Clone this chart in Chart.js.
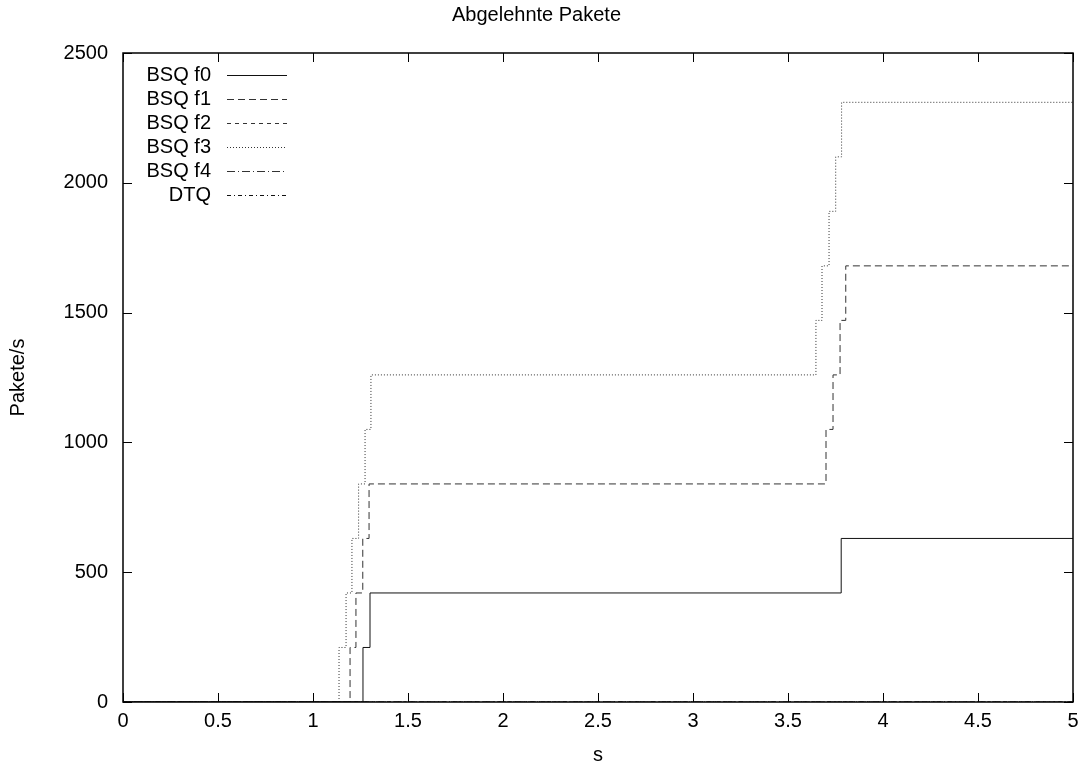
<!DOCTYPE html>
<html>
<head>
<meta charset="utf-8">
<title>Abgelehnte Pakete</title>
<script src="https://cdn.jsdelivr.net/npm/chart.js@4.4.1/dist/chart.umd.min.js"></script>
<style>
	html, body { margin: 0; padding: 0; background: #fff; }
	#wrap { position: relative; width: 1088px; height: 767px; }
</style>
</head>
<body>
<div id="wrap"><canvas id="chart"></canvas></div>
<script>
// step data: x = time in s, y = value from that time on
const xF0 = [0, 1.263, 1.3, 3.78, 5];
const yF0 = [0, 210, 420, 630, 630];

const xF1 = [0, 1.195, 1.226, 1.262, 1.295, 3.7, 3.737, 3.774, 3.804, 5];
const yF1 = [0, 210, 420, 630, 840, 1050, 1260, 1470, 1680, 1680];

const xF2 = [0, 5];
const yF2 = [0, 0];

const xF3 = [0, 1.137, 1.174, 1.205, 1.24, 1.274, 1.305, 3.647, 3.679, 3.716, 3.751, 3.782, 5];
const yF3 = [0, 210, 420, 630, 840, 1050, 1260, 1470, 1680, 1890, 2100, 2310, 2310];

const xF4 = [0, 5];
const yF4 = [0, 0];

const xDTQ = [0, 5];
const yDTQ = [0, 0];

const seriesLabels = ["BSQ f0", "BSQ f1", "BSQ f2", "BSQ f3", "BSQ f4", "DTQ"];
const xTicks = [0, 0.5, 1, 1.5, 2, 2.5, 3, 3.5, 4, 4.5, 5];
const yTicks = [0, 500, 1000, 1500, 2000, 2500];

const FONT = "'Liberation Sans', Arial, Helvetica, sans-serif";
const FS = 20;

function pts(xs, ys) {
	return xs.map((x, i) => ({ x: x, y: ys[i] }));
}

const dashes = [[], [7, 4], [4, 4], [1, 2], [8, 3, 1, 3], [4, 3, 1, 3]];
const colors = ["#111", "#333", "#333", "#333", "#333", "#111"];
const allX = [xF0, xF1, xF2, xF3, xF4, xDTQ];
const allY = [yF0, yF1, yF2, yF3, yF4, yDTQ];

const data = {
	datasets: seriesLabels.map((label, i) => ({
		label: label,
		data: pts(allX[i], allY[i]),
		borderColor: colors[i],
		borderWidth: 1,
		borderDash: dashes[i],
		pointRadius: 0,
		stepped: "before",
		fill: false,
	})),
};

// gnuplot style: frame, inward ticks on all four sides, legend top left
const framePlugin = {
	id: "frame",
	afterDatasetsDraw(chart) {
		const ctx = chart.ctx;
		const a = chart.chartArea;
		const xs = chart.scales.x;
		const ys = chart.scales.y;
		ctx.save();
		ctx.strokeStyle = "#000";
		ctx.lineWidth = 1;
		ctx.beginPath();
		xTicks.forEach((v) => {
			const px = Math.round(xs.getPixelForValue(v)) + 0.5;
			ctx.moveTo(px, a.bottom);
			ctx.lineTo(px, a.bottom - 9);
			ctx.moveTo(px, a.top);
			ctx.lineTo(px, a.top + 9);
		});
		yTicks.forEach((v) => {
			const py = Math.round(ys.getPixelForValue(v)) + 0.5;
			ctx.moveTo(a.left, py);
			ctx.lineTo(a.left + 9, py);
			ctx.moveTo(a.right, py);
			ctx.lineTo(a.right - 9, py);
		});
		ctx.stroke();
		ctx.lineWidth = 1.5;
		ctx.strokeRect(a.left, a.top, a.right - a.left, a.bottom - a.top);

		// legend
		ctx.font = FS + "px " + FONT;
		ctx.textAlign = "right";
		ctx.textBaseline = "middle";
		ctx.fillStyle = "#000";
		chart.data.datasets.forEach((ds, i) => {
			const y = 75 + i * 24;
			ctx.fillText(ds.label, 211, y);
			ctx.beginPath();
			ctx.lineWidth = 1;
			ctx.strokeStyle = ds.borderColor;
			ctx.setLineDash(ds.borderDash);
			ctx.moveTo(227, y + 0.5);
			ctx.lineTo(287, y + 0.5);
			ctx.stroke();
			ctx.setLineDash([]);
		});
		ctx.restore();
	},
};

const options = {
	responsive: true,
	maintainAspectRatio: false,
	animation: false,
	layout: {
		padding: { top: 0, right: 15, bottom: 0, left: 0 },
	},
	plugins: {
		legend: { display: false },
		tooltip: { enabled: false },
		title: {
			display: true,
			text: "Abgelehnte Pakete",
			color: "#000",
			font: { family: FONT, size: FS, weight: "normal" },
			padding: { top: 3, bottom: 26 },
		},
	},
	scales: {
		x: {
			type: "linear",
			min: 0,
			max: 5,
			afterBuildTicks: (scale) => {
				scale.ticks = xTicks.map((v) => ({ value: v }));
			},
			afterFit: (scale) => {
				scale.height = 65;
			},
			grid: { display: false, drawTicks: false },
			border: { display: false },
			ticks: {
				color: "#000",
				padding: 7,
				maxRotation: 0,
				font: { family: FONT, size: FS },
				callback: (v) => String(v),
			},
			title: {
				display: true,
				text: "s",
				color: "#000",
				font: { family: FONT, size: FS },
				padding: { top: 8, bottom: 0 },
			},
		},
		y: {
			type: "linear",
			min: 0,
			max: 2500,
			afterBuildTicks: (scale) => {
				scale.ticks = yTicks.map((v) => ({ value: v }));
			},
			afterFit: (scale) => {
				scale.width = 123;
			},
			grid: { display: false, drawTicks: false },
			border: { display: false },
			ticks: {
				color: "#000",
				padding: 15,
				font: { family: FONT, size: FS },
				callback: (v) => String(v),
			},
			title: {
				display: true,
				text: "Pakete/s",
				color: "#000",
				font: { family: FONT, size: FS },
				padding: { top: 6, bottom: 0 },
			},
		},
	},
};

const chart = new Chart(document.getElementById("chart").getContext("2d"), {
	type: "line",
	data,
	options,
	plugins: [framePlugin],
});
</script>
</body>
</html>
